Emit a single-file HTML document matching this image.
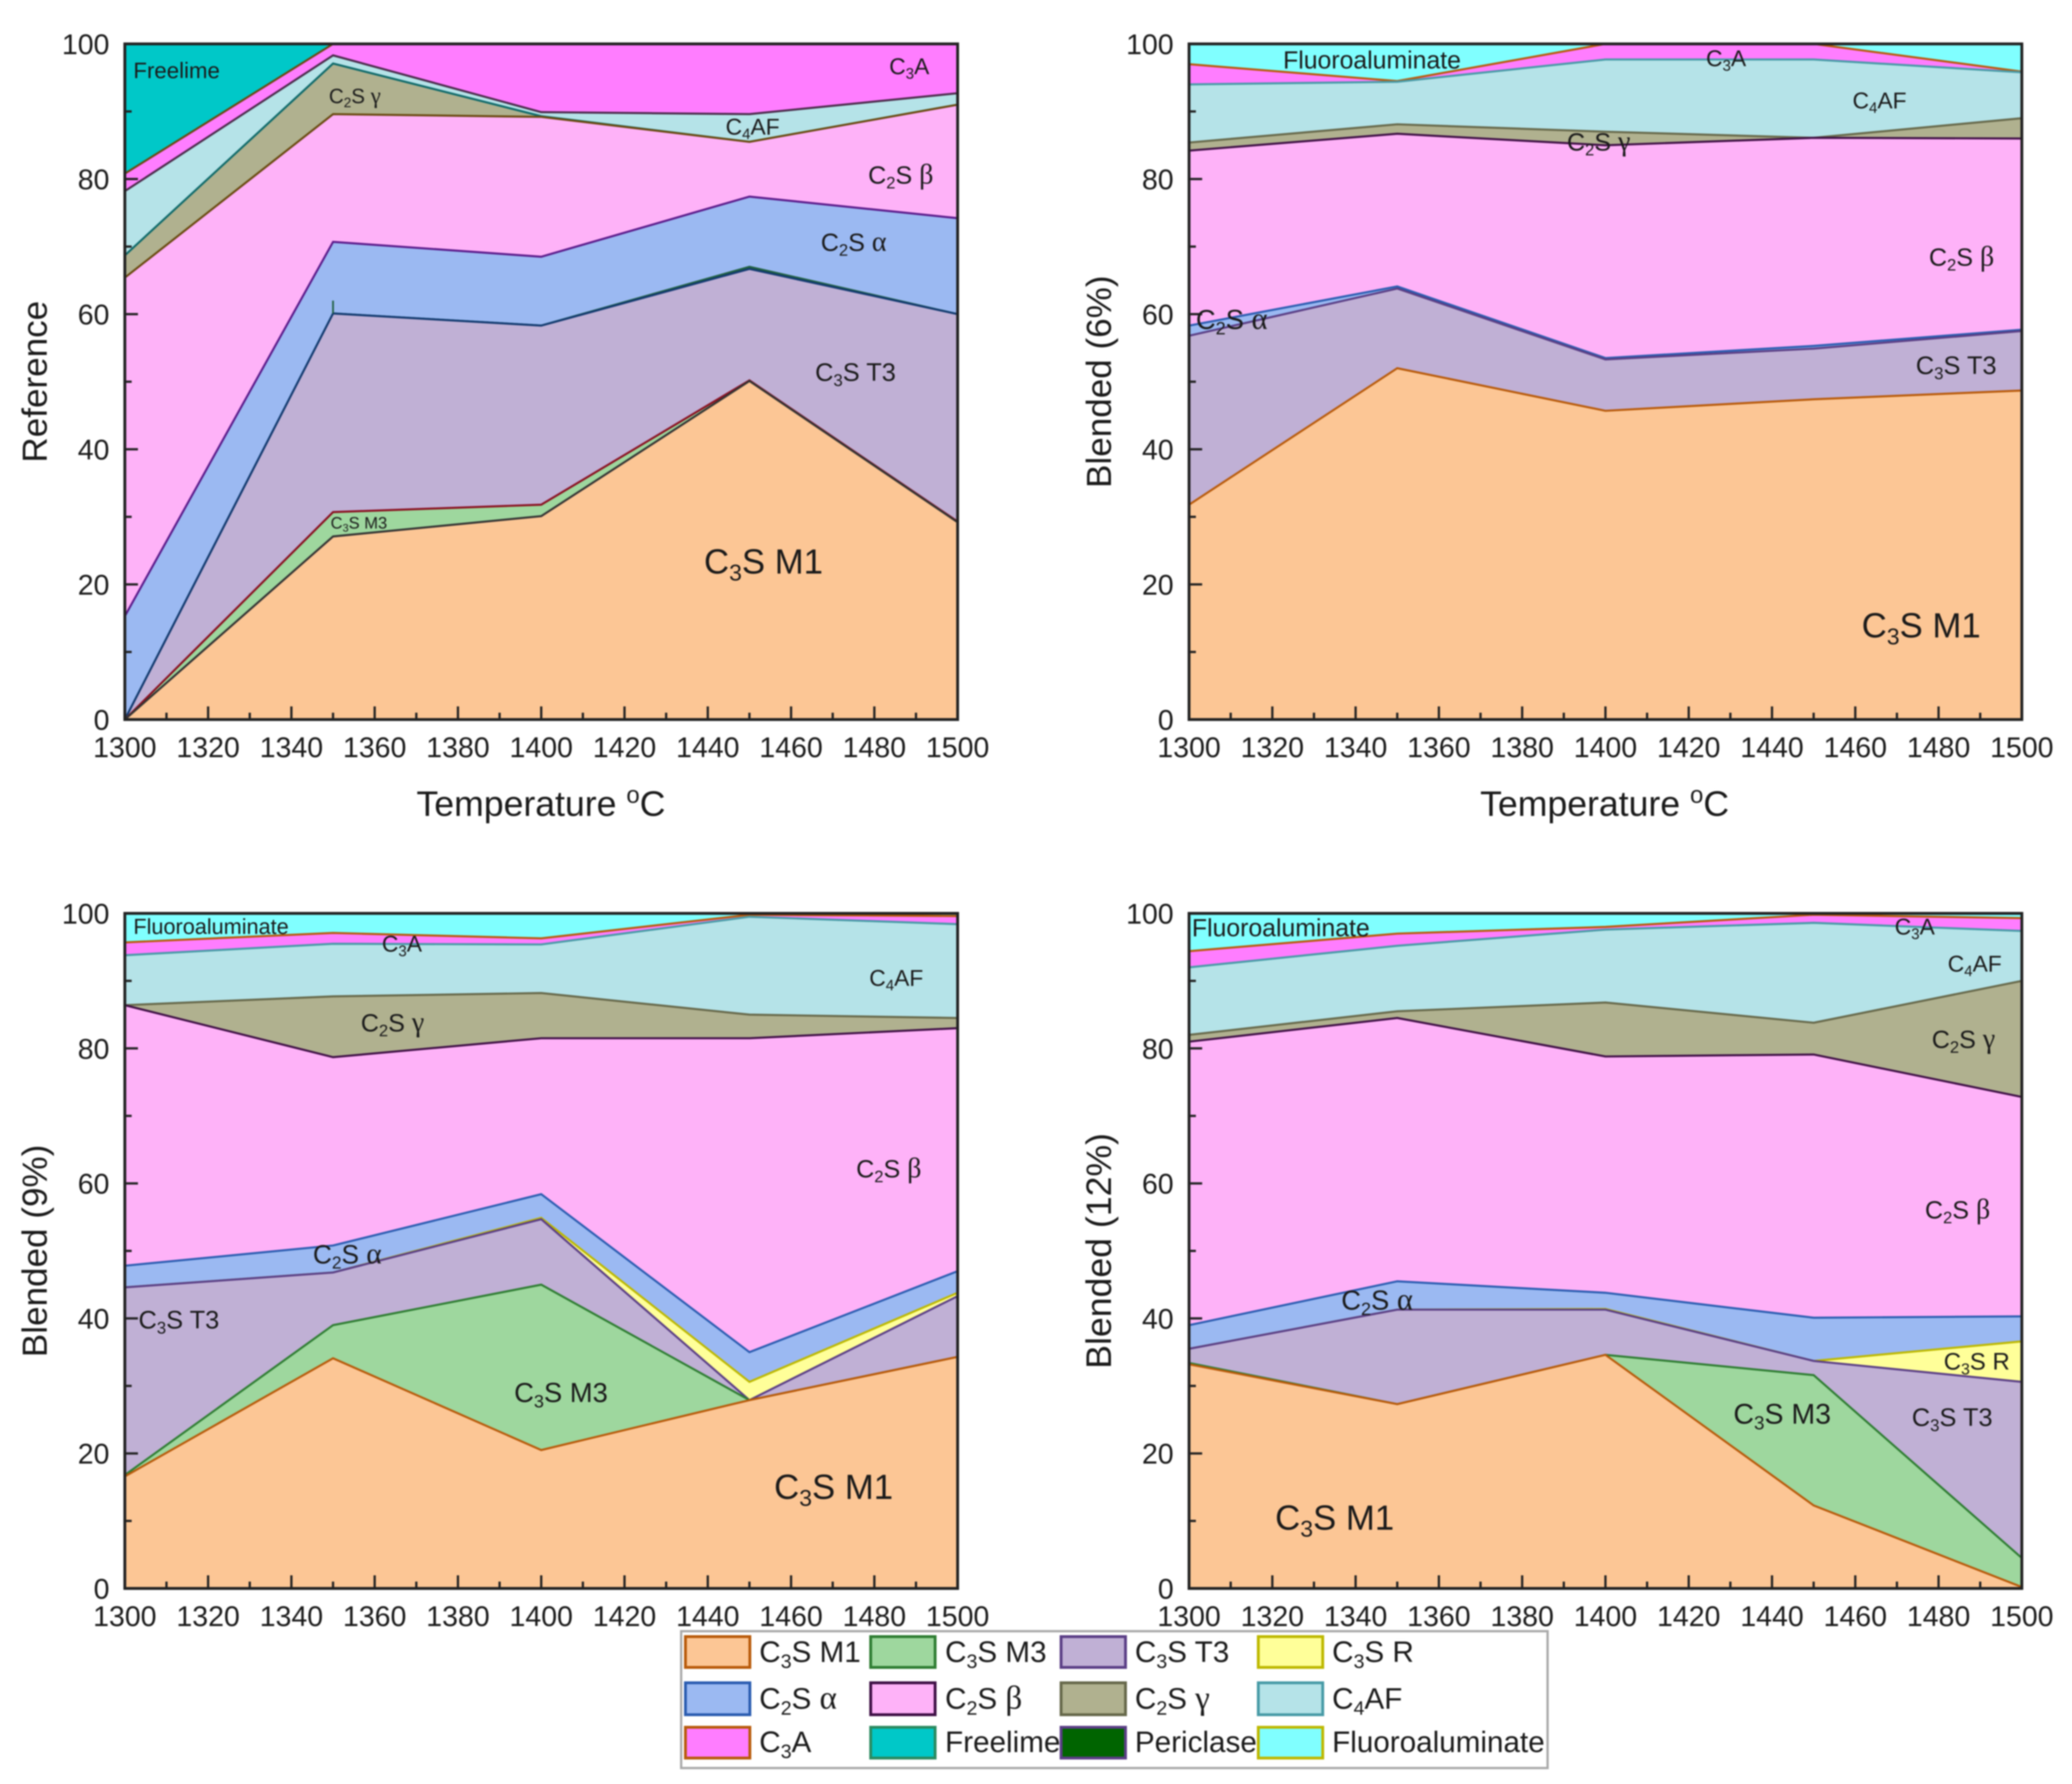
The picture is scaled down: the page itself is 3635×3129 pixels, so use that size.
<!DOCTYPE html>
<html lang="en">
<head>
<meta charset="utf-8">
<title>Phase composition versus temperature</title>
<style>
html,body{margin:0;padding:0;background:#fff;width:3635px;height:3129px;overflow:hidden}
svg{display:block;filter:blur(1.2px)}
text{font-family:"Liberation Sans",sans-serif;fill:#1a1a1a}
.sb{font-size:.66em}
.gr{font-family:"Liberation Serif",serif;font-size:1.12em}
</style>
</head>
<body>
<svg id="chart" xmlns="http://www.w3.org/2000/svg" width="3635" height="3129" viewBox="0 0 3635 3129">
  <rect x="0" y="0" width="3635" height="3129" fill="#fff"/>
  <g id="panel-a"></g>
  <g id="panel-b"></g>
  <g id="panel-c"></g>
  <g id="panel-d"></g>

  <g>
    <text x="234" y="137" font-size="39">Freelime</text>
    <text x="1560" y="130" font-size="40">C<tspan class="sb" dy=".3em">3</tspan><tspan dy="-.198em">A</tspan></text>
    <text x="1523" y="322" font-size="44">C<tspan class="sb" dy=".3em">2</tspan><tspan dy="-.198em">S </tspan><tspan class="gr">β</tspan></text>
    <text x="1440" y="440" font-size="44">C<tspan class="sb" dy=".3em">2</tspan><tspan dy="-.198em">S </tspan><tspan class="gr">α</tspan></text>
    <text x="1273" y="236" font-size="40">C<tspan class="sb" dy=".3em">4</tspan><tspan dy="-.198em">AF</tspan></text>
    <text x="577" y="181" font-size="36">C<tspan class="sb" dy=".3em">2</tspan><tspan dy="-.198em">S </tspan><tspan class="gr">γ</tspan></text>
    <text x="1430" y="668" font-size="44.5">C<tspan class="sb" dy=".3em">3</tspan><tspan dy="-.198em">S T3</tspan></text>
    <text x="580" y="927" font-size="29">C<tspan class="sb" dy=".3em">3</tspan><tspan dy="-.198em">S M3</tspan></text>
    <text x="1235" y="1006" font-size="61">C<tspan class="sb" dy=".3em">3</tspan><tspan dy="-.198em">S M1</tspan></text>
  </g>

  <g>
    <text x="2251" y="120" font-size="43.5">Fluoroaluminate</text>
    <text x="2993" y="116" font-size="40">C<tspan class="sb" dy=".3em">3</tspan><tspan dy="-.198em">A</tspan></text>
    <text x="3250" y="190" font-size="40">C<tspan class="sb" dy=".3em">4</tspan><tspan dy="-.198em">AF</tspan></text>
    <text x="2749" y="264" font-size="44">C<tspan class="sb" dy=".3em">2</tspan><tspan dy="-.198em">S </tspan><tspan class="gr">γ</tspan></text>
    <text x="3384" y="466" font-size="44">C<tspan class="sb" dy=".3em">2</tspan><tspan dy="-.198em">S </tspan><tspan class="gr">β</tspan></text>
    <text x="2098" y="577" font-size="48">C<tspan class="sb" dy=".3em">2</tspan><tspan dy="-.198em">S </tspan><tspan class="gr">α</tspan></text>
    <text x="3361" y="656" font-size="44.5">C<tspan class="sb" dy=".3em">3</tspan><tspan dy="-.198em">S T3</tspan></text>
    <text x="3266" y="1118" font-size="61">C<tspan class="sb" dy=".3em">3</tspan><tspan dy="-.198em">S M1</tspan></text>
  </g>

  <g>
    <text x="234" y="1638" font-size="38">Fluoroaluminate</text>
    <text x="670" y="1669" font-size="40">C<tspan class="sb" dy=".3em">3</tspan><tspan dy="-.198em">A</tspan></text>
    <text x="1525" y="1729" font-size="40">C<tspan class="sb" dy=".3em">4</tspan><tspan dy="-.198em">AF</tspan></text>
    <text x="633" y="1809" font-size="44">C<tspan class="sb" dy=".3em">2</tspan><tspan dy="-.198em">S </tspan><tspan class="gr">γ</tspan></text>
    <text x="1502" y="2065" font-size="44">C<tspan class="sb" dy=".3em">2</tspan><tspan dy="-.198em">S </tspan><tspan class="gr">β</tspan></text>
    <text x="549" y="2216" font-size="46">C<tspan class="sb" dy=".3em">2</tspan><tspan dy="-.198em">S </tspan><tspan class="gr">α</tspan></text>
    <text x="243" y="2330" font-size="44.5">C<tspan class="sb" dy=".3em">3</tspan><tspan dy="-.198em">S T3</tspan></text>
    <text x="902" y="2459" font-size="48">C<tspan class="sb" dy=".3em">3</tspan><tspan dy="-.198em">S M3</tspan></text>
    <text x="1358" y="2629" font-size="61">C<tspan class="sb" dy=".3em">3</tspan><tspan dy="-.198em">S M1</tspan></text>
  </g>

  <g>
    <text x="2091" y="1642" font-size="43.5">Fluoroaluminate</text>
    <text x="3324" y="1639" font-size="40">C<tspan class="sb" dy=".3em">3</tspan><tspan dy="-.198em">A</tspan></text>
    <text x="3417" y="1704" font-size="40">C<tspan class="sb" dy=".3em">4</tspan><tspan dy="-.198em">AF</tspan></text>
    <text x="3389" y="1838" font-size="44">C<tspan class="sb" dy=".3em">2</tspan><tspan dy="-.198em">S </tspan><tspan class="gr">γ</tspan></text>
    <text x="3377" y="2137" font-size="44">C<tspan class="sb" dy=".3em">2</tspan><tspan dy="-.198em">S </tspan><tspan class="gr">β</tspan></text>
    <text x="2353" y="2297" font-size="48">C<tspan class="sb" dy=".3em">2</tspan><tspan dy="-.198em">S </tspan><tspan class="gr">α</tspan></text>
    <text x="3410" y="2402" font-size="42">C<tspan class="sb" dy=".3em">3</tspan><tspan dy="-.198em">S R</tspan></text>
    <text x="3041" y="2497" font-size="50">C<tspan class="sb" dy=".3em">3</tspan><tspan dy="-.198em">S M3</tspan></text>
    <text x="3354" y="2501" font-size="44.5">C<tspan class="sb" dy=".3em">3</tspan><tspan dy="-.198em">S T3</tspan></text>
    <text x="2237" y="2683" font-size="61">C<tspan class="sb" dy=".3em">3</tspan><tspan dy="-.198em">S M1</tspan></text>
  </g>

  <g font-size="52">
    <rect x="1195" y="2861" width="1520" height="240" fill="#fff" stroke="#a9a9a9" stroke-width="4"/>
    <g><rect x="1202.5" y="2870.5" width="113" height="54" fill="#FCC695" stroke="#B85A0A" stroke-width="5"/><text x="1332" y="2915">C<tspan class="sb" dy=".3em">3</tspan><tspan dy="-.198em">S M1</tspan></text></g>
    <g><rect x="1527.5" y="2870.5" width="113" height="54" fill="#9ED79E" stroke="#2E7D32" stroke-width="5"/><text x="1658" y="2915">C<tspan class="sb" dy=".3em">3</tspan><tspan dy="-.198em">S M3</tspan></text></g>
    <g><rect x="1861.5" y="2870.5" width="113" height="54" fill="#C0B0D5" stroke="#5A3E85" stroke-width="5"/><text x="1991" y="2915">C<tspan class="sb" dy=".3em">3</tspan><tspan dy="-.198em">S T3</tspan></text></g>
    <g><rect x="2207.5" y="2870.5" width="113" height="54" fill="#FFFF99" stroke="#BDB800" stroke-width="5"/><text x="2337" y="2915">C<tspan class="sb" dy=".3em">3</tspan><tspan dy="-.198em">S R</tspan></text></g>
    <g><rect x="1202.5" y="2951.5" width="113" height="56" fill="#9BB9F2" stroke="#2A5CB0" stroke-width="5"/><text x="1332" y="2997">C<tspan class="sb" dy=".3em">2</tspan><tspan dy="-.198em">S </tspan><tspan class="gr">α</tspan></text></g>
    <g><rect x="1527.5" y="2951.5" width="113" height="56" fill="#FEB2F8" stroke="#3E0F45" stroke-width="5"/><text x="1658" y="2997">C<tspan class="sb" dy=".3em">2</tspan><tspan dy="-.198em">S </tspan><tspan class="gr">β</tspan></text></g>
    <g><rect x="1861.5" y="2951.5" width="113" height="56" fill="#B0B18F" stroke="#66684A" stroke-width="5"/><text x="1991" y="2997">C<tspan class="sb" dy=".3em">2</tspan><tspan dy="-.198em">S </tspan><tspan class="gr">γ</tspan></text></g>
    <g><rect x="2207.5" y="2951.5" width="113" height="56" fill="#B5E3E8" stroke="#479AA6" stroke-width="5"/><text x="2337" y="2997">C<tspan class="sb" dy=".3em">4</tspan><tspan dy="-.198em">AF</tspan></text></g>
    <g><rect x="1202.5" y="3029.5" width="113" height="54" fill="#FF7DFF" stroke="#B85A0A" stroke-width="5"/><text x="1332" y="3073">C<tspan class="sb" dy=".3em">3</tspan><tspan dy="-.198em">A</tspan></text></g>
    <g><rect x="1527.5" y="3029.5" width="113" height="54" fill="#00C8C8" stroke="#2A8A60" stroke-width="5"/><text x="1658" y="3073">Freelime</text></g>
    <g><rect x="1861.5" y="3029.5" width="113" height="54" fill="#006400" stroke="#5A3E85" stroke-width="5"/><text x="1991" y="3073">Periclase</text></g>
    <g><rect x="2207.5" y="3029.5" width="113" height="54" fill="#80FFFF" stroke="#BDB800" stroke-width="5"/><text x="2337" y="3073">Fluoroaluminate</text></g>
  </g>
</svg>

<script>
// Shared axis values
const temperatures = [1300, 1350, 1400, 1450, 1500];
const xTickLabels = [1300, 1320, 1340, 1360, 1380, 1400, 1420, 1440, 1460, 1480, 1500];
const xMinorTicks = [1310, 1330, 1350, 1370, 1390, 1410, 1430, 1450, 1470, 1490];
const yTickLabels = [0, 20, 40, 60, 80, 100];
const yMinorTicks = [10, 30, 50, 70, 90];

// Reference panel: stacked layer thickness, wt%
const refM1 = [0, 27.1, 30.1, 50.1, 29.2];
const refM3 = [0, 3.6, 1.7, 0.1, 0.1];
const refT3 = [0, 29.4, 26.5, 16.5, 30.7];
const refR = [0, 0, 0, 0.3, 0];
const refAlpha = [15.3, 10.6, 10.2, 10.4, 14.2];
const refBeta = [50.1, 18.9, 20.7, 8.1, 16.8];
const refGamma = [3.3, 7.5, 0.1, 0, 0];
const refC4AF = [9.5, 1.2, 0.6, 4.1, 1.7];
const refC3A = [2.6, 1.7, 10.1, 10.4, 7.3];
const refFreelime = [19.2, 0, 0, 0, 0];
const refFluoro = [0, 0, 0, 0, 0];
const refStrayMark = [60.1, 62];

// Blended 6% panel
const b6M1 = [31.8, 52, 45.7, 47.4, 48.7];
const b6M3 = [0, 0, 0, 0, 0];
const b6T3 = [25, 11.8, 7.6, 7.5, 8.8];
const b6R = [0, 0, 0, 0, 0];
const b6Alpha = [1.5, 0.3, 0.2, 0.4, 0.2];
const b6Beta = [25.9, 22.6, 31.5, 30.8, 28.3];
const b6Gamma = [1.2, 1.4, 2, 0, 3];
const b6C4AF = [8.6, 6.3, 10.7, 11.6, 6.8];
const b6C3A = [3, 0.1, 2.3, 2.3, 0.1];
const b6Freelime = [0, 0, 0, 0, 0];
const b6Fluoro = [3, 5.5, 0, 0, 4.1];

// Blended 9% panel
const b9M1 = [16.6, 34.1, 20.5, 27.9, 34.3];
const b9M3 = [0.2, 4.9, 24.5, 0, 0];
const b9T3 = [27.8, 7.8, 9.7, 0, 9];
const b9R = [0, 0, 0.2, 2.7, 0.5];
const b9Alpha = [3.2, 4, 3.5, 4.4, 3.2];
const b9Beta = [38.6, 27.9, 23.1, 46.5, 36];
const b9Gamma = [0, 9, 6.7, 3.5, 1.5];
const b9C4AF = [7.4, 7.8, 7.2, 14.5, 13.9];
const b9C3A = [1.9, 1.6, 0.9, 0.3, 1.2];
const b9Freelime = [0, 0, 0, 0, 0];
const b9Fluoro = [4.3, 2.9, 3.7, 0.2, 0.4];

// Blended 12% panel
const b12M1 = [33.2, 27.3, 34.6, 12.3, 0.2];
const b12M3 = [0.2, 0, 0, 19.3, 4.3];
const b12T3 = [2.1, 14, 6.7, 2.1, 26.1];
const b12R = [0, 0, 0.1, 0, 6];
const b12Alpha = [3.5, 4.2, 2.4, 6.4, 3.7];
const b12Beta = [42, 39, 35, 39, 32.5];
const b12Gamma = [1, 1, 8, 4.7, 17.2];
const b12C4AF = [10, 9.7, 10.8, 14.8, 7.4];
const b12C3A = [2.4, 1.8, 0.4, 1.2, 1.9];
const b12Freelime = [0, 0, 0, 0, 0];
const b12Fluoro = [5.6, 3, 2, 0.2, 0.7];

const NS = 'http://www.w3.org/2000/svg';
const layerIds = ['c3s-m1', 'c3s-m3', 'c3s-t3', 'c3s-r', 'c2s-alpha', 'c2s-beta', 'c2s-gamma', 'c4af', 'c3a', 'freelime', 'fluoroaluminate'];
const fillColors = ['#FCC695', '#9ED79E', '#C0B0D5', '#FFFF99', '#9BB9F2', '#FEB2F8', '#B0B18F', '#B5E3E8', '#FF7DFF', '#00C8C8', '#80FFFF'];
const blendLines = ['#B85A0A', '#2E7D32', '#5A3E85', '#BDB800', '#2A5CB0', '#3E0F45', '#66684A', '#479AA6', '#B85A0A', '#2A8A60', '#BDB800'];
const refLines = ['#333333', '#8A1020', '#123A70', '#1F5F3F', '#5A1A8A', '#6A4A10', '#0F6A6A', '#4A2A4A', '#6A4A10', '#2A6A50', '#BDB800'];

function mk(parent, tag, attrs) {
  const el = document.createElementNS(NS, tag);
  for (const k in attrs) el.setAttribute(k, attrs[k]);
  parent.appendChild(el);
  return el;
}

function drawPanel(id, left, right, top, bottom, layers, lines, yTitle, yTitleSize, showXTitle, titleX) {
  const g = document.getElementById(id);
  const xScale = v => left + (v - 1300) / 200 * (right - left);
  const yScale = v => bottom - v / 100 * (bottom - top);

  const cumulative = [];
  let running = temperatures.map(() => 0);
  layers.forEach(layer => {
    running = running.map((v, i) => v + layer[i]);
    cumulative.push(running);
  });

  for (let s = layers.length - 1; s >= 0; s--) {
    if (layers[s].every(v => v === 0)) continue;
    const pts = temperatures.map((t, i) => xScale(t).toFixed(1) + ',' + yScale(Math.min(cumulative[s][i], 100)).toFixed(1));
    const area = mk(g, 'polygon', {
      points: xScale(1300) + ',' + yScale(0) + ' ' + pts.join(' ') + ' ' + xScale(1500) + ',' + yScale(0),
      fill: fillColors[s]
    });
    
    
    const edge = mk(g, 'polyline', {
      points: pts.join(' '), fill: 'none', stroke: lines[s], 'stroke-width': 3.6, 'stroke-linejoin': 'miter'
    });
    
    
  }

  if (id === 'panel-a') {
    const stray = mk(g, 'line', {
      x1: xScale(1350), x2: xScale(1350), y1: yScale(refStrayMark[0]), y2: yScale(refStrayMark[1]),
      stroke: '#1F5F3F', 'stroke-width': 3
    });
    
    
  }

  const axisColor = '#222';
  xTickLabels.forEach(t => {
    const tick = mk(g, 'line', { x1: xScale(t), x2: xScale(t), y1: bottom, y2: bottom - 23, stroke: axisColor, 'stroke-width': 4 });
    
    
    const lab = mk(g, 'text', { x: xScale(t), y: bottom + 66, 'font-size': 50, 'text-anchor': 'middle' });
    
    
    lab.textContent = t;
  });
  xMinorTicks.forEach(t => {
    const tick = mk(g, 'line', { x1: xScale(t), x2: xScale(t), y1: bottom, y2: bottom - 12, stroke: axisColor, 'stroke-width': 4 });
    
    
  });
  yTickLabels.forEach(v => {
    const tick = mk(g, 'line', { x1: left, x2: left + 23, y1: yScale(v), y2: yScale(v), stroke: axisColor, 'stroke-width': 4 });
    
    
    const lab = mk(g, 'text', { x: left - 27, y: yScale(v) + 18, 'font-size': 50, 'text-anchor': 'end' });
    
    
    lab.textContent = v;
  });
  yMinorTicks.forEach(v => {
    const tick = mk(g, 'line', { x1: left, x2: left + 12, y1: yScale(v), y2: yScale(v), stroke: axisColor, 'stroke-width': 4 });
    
    
  });

  const frame = mk(g, 'rect', { x: left, y: top, width: right - left, height: bottom - top, fill: 'none', stroke: axisColor, 'stroke-width': 5 });
  
  

  const yt = mk(g, 'text', {
    transform: 'translate(' + (left - 137) + ',' + ((top + bottom) / 2) + ') rotate(-90)',
    'font-size': yTitleSize, 'text-anchor': 'middle'
  });
  
  
  yt.textContent = yTitle;

  if (showXTitle) {
    const xt = mk(g, 'text', { x: titleX, y: bottom + 169, 'font-size': 62.5, 'text-anchor': 'middle' });
    
    
    xt.textContent = 'Temperature ';
    const deg = mk(xt, 'tspan', { dy: -23, 'font-size': 42 });
    deg.textContent = 'o';
    const unit = mk(xt, 'tspan', { dy: 23 });
    unit.textContent = 'C';
  }
}

drawPanel('panel-a', 219, 1680, 77, 1262,
  [refM1, refM3, refT3, refR, refAlpha, refBeta, refGamma, refC4AF, refC3A, refFreelime, refFluoro],
  refLines, 'Reference', 61.5, true, 949);
drawPanel('panel-b', 2086, 3547, 77, 1262,
  [b6M1, b6M3, b6T3, b6R, b6Alpha, b6Beta, b6Gamma, b6C4AF, b6C3A, b6Freelime, b6Fluoro],
  blendLines, 'Blended (6%)', 61.5, true, 2815);
drawPanel('panel-c', 219, 1680, 1602, 2786,
  [b9M1, b9M3, b9T3, b9R, b9Alpha, b9Beta, b9Gamma, b9C4AF, b9C3A, b9Freelime, b9Fluoro],
  blendLines, 'Blended (9%)', 61.5, false, 0);
drawPanel('panel-d', 2086, 3547, 1602, 2786,
  [b12M1, b12M3, b12T3, b12R, b12Alpha, b12Beta, b12Gamma, b12C4AF, b12C3A, b12Freelime, b12Fluoro],
  blendLines, 'Blended (12%)', 62.5, false, 0);
</script>
</body>
</html>
